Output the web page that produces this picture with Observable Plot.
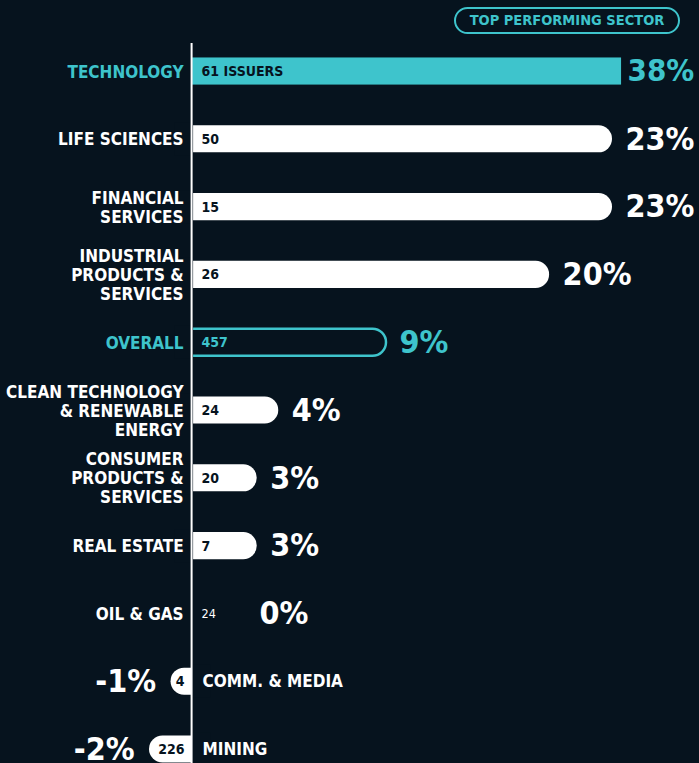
<!DOCTYPE html>
<html>
<head>
<meta charset="utf-8">
<script src="https://cdn.jsdelivr.net/npm/d3@7"></script>
<script src="https://cdn.jsdelivr.net/npm/@observablehq/plot@0.6"></script>
<style>
  html, body { margin: 0; padding: 0; background: #06131e; }
  #wrap { position: relative; width: 699px; height: 763px; overflow: hidden; background: #06131e; }
  #badge {
    position: absolute; left: 454px; top: 7px; width: 222px; height: 23px;
    border: 2.5px solid #3ec4cc; border-radius: 14px; box-sizing: content-box;
    color: #3ec4cc; font-family: "DejaVu Sans Condensed", "DejaVu Sans", sans-serif; font-stretch: condensed;
    font-weight: bold; font-size: 14.5px; line-height: 23px; text-align: center; letter-spacing: 0px;
  }
  svg { display: block; }
</style>
</head>
<body>
<div id="wrap">
  <div id="chart"></div>
  <div id="badge">TOP PERFORMING SECTOR</div>
</div>
<script>
// ---- data ----
const sectors = [
  "TECHNOLOGY",
  "LIFE SCIENCES",
  "FINANCIAL\nSERVICES",
  "INDUSTRIAL\nPRODUCTS &\nSERVICES",
  "OVERALL",
  "CLEAN TECHNOLOGY\n& RENEWABLE\nENERGY",
  "CONSUMER\nPRODUCTS &\nSERVICES",
  "REAL ESTATE",
  "OIL & GAS",
  "COMM. & MEDIA",
  "MINING"
];
const returns = [38, 23, 23, 20, 9, 4, 3, 3, 0, -1, -2];
const issuers = ["61 ISSUERS", "50", "15", "26", "457", "24", "20", "7", "24", "4", "226"];
const roles = ["top", "sector", "sector", "sector", "overall", "sector", "sector", "sector", "sector", "sector", "sector"];

const BG = "#06131e";
const TEAL = "#3ec4cc";
const WHITE = "#ffffff";
const FONT = "'DejaVu Sans Condensed', 'DejaVu Sans', sans-serif";

// the original chart compresses the axis beyond ~9% (broken scale)
const compress = d3.scaleLinear().domain([-2, 9, 20, 23, 38]).range([-2, 9, 16.57, 19.49, 19.91]);

const rows = sectors.map((s, i) => ({sector: s, v: returns[i], n: issuers[i], role: roles[i], zero: 0}));
const pos = rows.filter(d => d.v > 0);
const neg = rows.filter(d => d.v < 0);
const zero = rows.filter(d => d.v === 0);
const accent = d => d.role === "sector" ? WHITE : TEAL;

const chart = Plot.plot({
  width: 699,
  height: 763,
  marginTop: 43,
  marginBottom: 0,
  marginLeft: 0,
  marginRight: 0,
  style: {background: BG, fontFamily: FONT, fontStretch: "condensed"},
  x: {axis: null, type: "linear", transform: compress, domain: [-2, 9], range: [149, 386]},
  y: {axis: null, type: "band", domain: sectors, range: [43.9, 776.1], paddingInner: 0.6, paddingOuter: 0.2, round: false},
  marks: [
    Plot.barX(pos.filter(d => d.role === "sector"), {x1: "zero", x2: "v", y: "sector", fill: WHITE, rx: 13.5, insetLeft: -16}),
    Plot.barX(pos.filter(d => d.role === "top"), {x1: "zero", x2: "v", y: "sector", fill: TEAL}),
    Plot.barX(pos.filter(d => d.role === "overall"), {x1: "zero", x2: "v", y: "sector", fill: BG, stroke: TEAL, strokeWidth: 2.5, rx: 13.5, insetLeft: -16}),
    Plot.barX(neg, {x1: "zero", x2: "v", y: "sector", fill: WHITE, rx: 13.5, insetRight: -16}),
    Plot.barX(pos.filter(d => d.role !== "top"), {x1: "zero", x2: "zero", y: "sector", fill: BG, insetLeft: -18, insetRight: -1, insetTop: -3, insetBottom: -3}),
    Plot.barX(neg, {x1: "zero", x2: "zero", y: "sector", fill: BG, insetLeft: -1, insetRight: -18, insetTop: -3, insetBottom: -3}),
    Plot.ruleX([0], {stroke: WHITE, strokeWidth: 2, dx: -1}),
    Plot.text(rows.filter(d => d.v >= 0), {x: "zero", y: "sector", text: "sector", textAnchor: "end", dx: -9, fill: accent, fontSize: 17, fontWeight: "bold", lineHeight: 1.12}),
    Plot.text(neg, {x: "zero", y: "sector", text: "sector", textAnchor: "start", dx: 10, fill: WHITE, fontSize: 17, fontWeight: "bold"}),
    Plot.text(pos, {x: "zero", y: "sector", text: "n", textAnchor: "start", dx: 9, fill: d => d.role === "overall" ? TEAL : BG, fontSize: 14, fontWeight: "bold"}),
    Plot.text(zero, {x: "zero", y: "sector", text: "n", textAnchor: "start", dx: 9, fill: WHITE, fontSize: 12.5, fontWeight: "normal"}),
    Plot.text(neg, {x: "zero", y: "sector", text: "n", textAnchor: "end", dx: -8, fill: BG, fontSize: 14, fontWeight: "bold"}),
    Plot.text(pos.filter(d => d.role !== "top"), {x: "v", y: "sector", text: d => `${d.v}%`, textAnchor: "start", dx: 13, fill: accent, fontSize: 32, fontWeight: "bold"}),
    Plot.text(pos.filter(d => d.role === "top"), {x: "v", y: "sector", text: d => `${d.v}%`, textAnchor: "start", dx: 6, fill: TEAL, fontSize: 31, fontWeight: "bold"}),
    Plot.text(zero, {x: "v", y: "sector", text: d => `${d.v}%`, textAnchor: "start", dx: 67, fill: WHITE, fontSize: 32, fontWeight: "bold"}),
    Plot.text(neg, {x: "v", y: "sector", text: d => `${d.v}%`, textAnchor: "end", dx: -15, fill: WHITE, fontSize: 32, fontWeight: "bold"})
  ]
});
document.getElementById("chart").appendChild(chart);
</script>
</body>
</html>
